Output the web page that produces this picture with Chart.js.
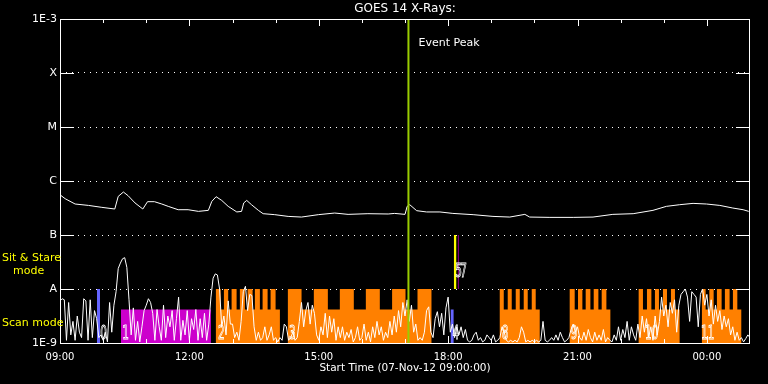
<!DOCTYPE html>
<html lang="en">
<head>
  <meta charset="UTF-8" />
  <title>GOES 14 X-Rays</title>
  <script src="https://cdn.jsdelivr.net/npm/chart.js"></script>
  <style>
    body { margin: 0; background: #000; }
    canvas { display: block; }
  </style>
</head>
<body>
  <canvas id="goesChart" width="768" height="384"></canvas>
  <script>
    // x values are hours after 07-Nov-12 09:00
    const xTickHours = [0, 3, 6, 9, 12, 15];
    const xTickLabels = ['09:00', '12:00', '15:00', '18:00', '21:00', '00:00'];
    const yTickValues = [1e-9, 1e-8, 1e-7, 1e-6, 1e-5, 1e-4, 1e-3];
    const yTickLabels = ['1E-9', 'A', 'B', 'C', 'M', 'X', '1E-3'];

    // GOES long channel flux (W/m^2)
    const fluxHours = [0.02, 0.12, 0.35, 0.66, 0.97, 1.27, 1.35, 1.47, 1.58, 1.74, 1.92, 2.03, 2.19, 2.36, 2.51,
      2.74, 2.97, 3.21, 3.44, 3.52, 3.62, 3.75, 3.90, 4.10, 4.21, 4.26, 4.33, 4.44, 4.60, 4.71, 4.98, 5.29, 5.60,
      5.99, 6.37, 6.68, 7.14, 7.61, 7.76, 8.00, 8.05, 8.11, 8.27, 8.50, 8.81, 9.11, 9.58, 10.04, 10.43, 10.78,
      10.89, 11.36, 11.90, 12.36, 12.82, 13.29, 13.75, 14.06, 14.37, 14.68, 14.99, 15.30, 15.60, 15.84, 15.97];
    const fluxValues = [5.4e-7, 4.7e-7, 3.75e-7, 3.53e-7, 3.25e-7, 3.03e-7, 5.19e-7, 6.25e-7, 5.34e-7, 3.92e-7,
      3.03e-7, 4.14e-7, 4.14e-7, 3.75e-7, 3.39e-7, 2.94e-7, 2.94e-7, 2.74e-7, 2.86e-7, 4.19e-7, 5.12e-7, 4.37e-7,
      3.39e-7, 2.67e-7, 2.74e-7, 3.92e-7, 4.37e-7, 3.64e-7, 2.86e-7, 2.48e-7, 2.38e-7, 2.21e-7, 2.15e-7, 2.38e-7,
      2.55e-7, 2.41e-7, 2.48e-7, 2.45e-7, 2.51e-7, 2.41e-7, 3.39e-7, 3.64e-7, 2.82e-7, 2.67e-7, 2.67e-7, 2.51e-7,
      2.38e-7, 2.21e-7, 2.15e-7, 2.41e-7, 2.15e-7, 2.12e-7, 2.12e-7, 2.15e-7, 2.41e-7, 2.48e-7, 2.86e-7, 3.39e-7,
      3.64e-7, 3.85e-7, 3.75e-7, 3.53e-7, 3.16e-7, 2.94e-7, 2.74e-7];

    const eventPeakHour = 8.08;

    // detector counts in the mode band, 3 min cadence (band units, 1 = top of scan band)
    const countStep = 0.05;
    const countValues = [
      0.78, 0.82, 0.8, 0.05, 0.75, 0.15, 0.4, 0.05, 0.5, 0.2,
      0.1, 0.82, 0.78, 0.05, 0.8, 0.1, 0.6, 0.45, 0.1, 0.15,
      0.05, 0.2, 0.02, 0.75, 0.2, 0.7, 0.95, 1.38, 1.48, 1.56,
      1.58, 1.4, 0.8, 0.15, 0.65, 0.05, 0.4, 0.02, 0.3, 0.6,
      0.7, 0.82, 0.75, 0.55, 0.05, 0.62, 0.3, 0.05, 0.7, 0.1,
      0.5, 0.3, 0.6, 0.05, 0.45, 0.85, 0.05, 0.42, 0.15, 0.6,
      0.05, 0.45, 0.25, 0.62, 0.05, 0.45, 0.1, 0.55, 0.05, 0.35,
      0.85, 1.2, 1.28, 1.26, 1.0, 0.3, 0.5, 0.15, 0.78, 0.35,
      0.35, 0.1, 0.2, 0.05, 0.4, 0.95, 1.05, 0.6, 0.9, 0.88,
      0.3, 0.05, 0.2, 0.05, 0.1, 0.3, 0.05, 0.15, 0.3, 0.05,
      0.1, 0.02, 0.1, 0.05, 0.35, 0.3, 0.05, 0.1, 0.2, 0.05,
      0.1, 0.4, 0.75, 0.3, 0.6, 0.75, 0.35, 0.7, 0.55, 0.15,
      0.05, 0.3, 0.15, 0.55, 0.1, 0.5, 0.2, 0.45, 0.05, 0.3,
      0.1, 0.3, 0.05, 0.2, 0.1, 0.25, 0.02, 0.1, 0.3, 0.05,
      0.1, 0.35, 0.05, 0.2, 0.02, 0.3, 0.1, 0.4, 0.15, 0.3,
      0.05, 0.2, 0.1, 0.4, 0.15, 0.5, 0.2, 0.6, 0.3, 0.75,
      0.5, 0.8, 0.4, 0.7, 0.2, 0.35, 0.05, 0.1, 0.05, 0.2,
      0.6, 0.67, 0.2, 0.1, 0.45, 0.58, 0.3, 0.55, 0.15, 0.65,
      0.85, 0.2, 0.35, 0.1, 0.3, 0.15, 0.3, 0.1, 0.25, 0.05,
      0.02, 0.05, 0.15, 0.2, 0.05, 0.1, 0.02, 0.05, 0.15, 0.1,
      0.05, 0.15, 0.02, 0.05, 0.1, 0.3, 0.2, 0.05, 0.02, 0.05,
      0.02, 0.05, 0.02, 0.1, 0.3, 0.2, 0.02, 0.05, 0.02, 0.05,
      0.02, 0.05, 0.02, 0.05, 0.4, 0.05, 0.02, 0.05, 0.1, 0.05,
      0.15, 0.05, 0.2, 0.1, 0.02, 0.05, 0.1, 0.25, 0.35, 0.2,
      0.3, 0.1, 0.05, 0.2, 0.05, 0.25, 0.1, 0.02, 0.2, 0.05,
      0.15, 0.05, 0.25, 0.02, 0.1, 0.05, 0.02, 0.15, 0.05, 0.3,
      0.05, 0.25, 0.1, 0.4, 0.05, 0.3, 0.15, 0.05, 0.35, 0.1,
      0.5, 0.2, 0.45, 0.1, 0.3, 0.05, 0.5, 0.15, 0.4, 0.85,
      0.5, 0.7, 0.3, 0.75, 0.55, 0.8, 0.2, 0.7, 0.9, 0.95,
      1.0, 0.85, 0.4, 0.95, 0.9, 0.85, 0.3, 0.9, 1.0, 0.7,
      0.9, 0.5, 0.8, 0.35, 0.7, 0.4, 0.6, 0.25, 0.5, 0.3,
      0.45, 0.15, 0.3, 0.05, 0.2, 0.05, 0.1, 0.02, 0.08, 0.15,
      0.1];

    // observing modes: level 1 = full scan, 0.62 = partial, 0 = none
    const scanTimes = [0, 3.615, 3.724, 3.801, 3.900, 3.979, 4.095, 4.171, 4.287, 4.350, 4.466, 4.519, 4.635,
      4.698, 4.814, 4.883, 4.999, 5.099,
      5.284, 5.601, 5.886, 6.211, 6.489, 6.813, 7.092, 7.416, 7.701, 8.012, 8.290, 8.614,
      10.197, 10.290, 10.382, 10.475, 10.568, 10.661, 10.753, 10.846, 10.939, 11.031, 11.124,
      11.819, 11.935, 12.012, 12.113, 12.190, 12.299, 12.376, 12.484, 12.561, 12.670, 12.762,
      13.418, 13.518, 13.611, 13.713, 13.796, 13.889, 13.982, 14.075, 14.167, 14.260, 14.368,
      14.885, 14.971, 15.057, 15.157, 15.233, 15.342, 15.418, 15.527, 15.604, 15.706, 15.798, 16];
    const scanLevels = [0, 1, 0.62, 1, 0.62, 1, 0.62, 1, 0.62, 1, 0.62, 1, 0.62, 1, 0.62, 1, 0.62, 0,
      1, 0.62, 1, 0.62, 1, 0.62, 1, 0.62, 1, 0.62, 1, 0,
      1, 0.62, 1, 0.62, 1, 0.62, 1, 0.62, 1, 0.62, 0,
      1, 0.62, 1, 0.62, 1, 0.62, 1, 0.62, 1, 0.62, 0,
      1, 0.62, 1, 0.62, 1, 0.62, 1, 0.62, 1, 0.62, 0,
      1, 0.62, 1, 0.62, 1, 0.62, 1, 0.62, 1, 0.62, 0, 0];
    const rasterTimes = [1.414, 3.499];
    const rasterLevels = [0.62, 0];
    const blueTimes = [0.857, 0.927, 9.061, 9.131];
    const blueLevels = [1, 0, 0.62, 0];
    const stareTimes = [9.131, 9.194];
    const stareLevels = [2, 1];
    const stare7Times = [9.222, 9.247];
    const stare7Levels = [2, 1];

    const modeNumbers = ['0', '1', '2', '3', '4', '5', '7', '8', '9', '10', '11'];
    const modeNumberHours = [1.01, 1.52, 3.74, 5.39, 9.18, 9.24, 9.36, 10.32, 11.92, 13.72, 15.02];
    const modeNumberLevels = [0.16, 0.16, 0.16, 0.16, 0.16, 1.32, 1.32, 0.16, 0.16, 0.16, 0.16];

    const FONT = '"DejaVu Sans", sans-serif';

    function steps(times, levels) {
      return times.map((t, i) => ({ x: t, y: levels[i] }));
    }

    const decor = {
      id: 'decor',
      afterDraw(chart) {
        const { ctx, chartArea: a, scales } = chart;
        const x = scales.x, y = scales.y, y2 = scales.y2;
        ctx.save();
        ctx.strokeStyle = '#fff';
        ctx.lineWidth = 1;
        ctx.strokeRect(a.left + 0.5, a.top + 0.5, a.right - a.left - 1, a.bottom - a.top);

        ctx.beginPath();
        yTickValues.slice(1, -1).forEach(v => {
          const py = Math.round(y.getPixelForValue(v)) + 0.5;
          ctx.moveTo(a.left, py); ctx.lineTo(a.left + 14, py);
          ctx.moveTo(a.right - 14, py); ctx.lineTo(a.right, py);
        });
        for (let h = 1; h < 16; h++) {
          const px = Math.round(x.getPixelForValue(h)) + 0.5;
          const len = h % 3 === 0 ? 7 : 4;
          ctx.moveTo(px, a.top); ctx.lineTo(px, a.top + len);
          ctx.moveTo(px, a.bottom); ctx.lineTo(px, a.bottom - len);
        }
        ctx.stroke();

        ctx.fillStyle = '#fff';
        ctx.textBaseline = 'middle';
        ctx.textAlign = 'center';
        ctx.font = '12px ' + FONT;
        ctx.fillText('GOES 14 X-Rays:', (a.left + a.right) / 2, 9);
        ctx.font = '10.5px ' + FONT;
        ctx.fillText('Start Time (07-Nov-12 09:00:00)', (a.left + a.right) / 2, 368);

        ctx.textAlign = 'left';
        ctx.font = '11px ' + FONT;
        ctx.fillText('Event Peak', x.getPixelForValue(eventPeakHour) + 10, 43);

        ctx.fillStyle = '#ffff00';
        ctx.fillText('Sit & Stare', 2, 258);
        ctx.fillText('mode', 13, 271);
        ctx.fillText('Scan mode', 2, 323);

        ctx.strokeStyle = '#fff';
        ctx.font = '19px ' + FONT;
        modeNumbers.forEach((t, i) => {
          ctx.save();
          ctx.translate(x.getPixelForValue(modeNumberHours[i]), y2.getPixelForValue(modeNumberLevels[i]));
          ctx.scale(0.55, 1);
          ctx.textAlign = 'center';
          ctx.strokeText(t, 0, 0);
          ctx.restore();
        });
        ctx.restore();
      }
    };

    new Chart(document.getElementById('goesChart'), {
      type: 'line',
      data: {
        datasets: [
          {
            data: [{ x: eventPeakHour, y: 1e-9 }, { x: eventPeakHour, y: 1e-3 }],
            borderColor: '#99cc00', borderWidth: 2, yAxisID: 'y', order: 0
          },
          {
            data: fluxHours.map((h, i) => ({ x: h, y: fluxValues[i] })),
            borderColor: '#ffffff', borderWidth: 1, yAxisID: 'y', order: 1
          },
          {
            data: countValues.map((v, i) => ({ x: i * countStep, y: v })),
            borderColor: '#ffffff', borderWidth: 1, yAxisID: 'y2', order: 2
          },
          {
            data: steps(stareTimes, stareLevels), stepped: true, fill: { value: 1 },
            backgroundColor: '#ffff00', borderWidth: 0, yAxisID: 'y2', order: 3
          },
          {
            data: steps(stare7Times, stare7Levels), stepped: true, fill: { value: 1 },
            backgroundColor: '#cc00cc', borderWidth: 0, yAxisID: 'y2', order: 3
          },
          {
            data: steps(blueTimes, blueLevels), stepped: true, fill: 'origin',
            backgroundColor: '#6464ff', borderWidth: 0, yAxisID: 'y2', order: 4
          },
          {
            data: steps(rasterTimes, rasterLevels), stepped: true, fill: 'origin',
            backgroundColor: '#cc00cc', borderWidth: 0, yAxisID: 'y2', order: 5
          },
          {
            data: steps(scanTimes, scanLevels), stepped: true, fill: 'origin',
            backgroundColor: '#ff8000', borderWidth: 0, yAxisID: 'y2', order: 5
          }
        ]
      },
      options: {
        responsive: false,
        animation: false,
        devicePixelRatio: 1,
        layout: { padding: { top: 19, right: 18, left: 0, bottom: 0 } },
        plugins: { legend: { display: false }, tooltip: { enabled: false } },
        elements: { point: { radius: 0 }, line: { tension: 0 } },
        scales: {
          x: {
            type: 'linear', min: 0, max: 16,
            afterBuildTicks: s => { s.ticks = xTickHours.map(v => ({ value: v })); },
            afterFit: s => { s.height = 41; },
            grid: { display: false },
            border: { display: false },
            ticks: {
              color: '#fff', font: { family: FONT, size: 10 }, padding: 0,
              maxRotation: 0, autoSkip: false,
              callback: (v, i) => xTickLabels[i]
            }
          },
          y: {
            type: 'logarithmic', min: 1e-9, max: 1e-3,
            afterBuildTicks: s => { s.ticks = yTickValues.map(v => ({ value: v })); },
            afterFit: s => { s.width = 60; },
            grid: {
              drawTicks: false,
              color: c => (c.index === 0 || c.index === yTickValues.length - 1) ? 'rgba(0,0,0,0)' : '#ffffff'
            },
            border: { display: false, dash: [1, 5] },
            ticks: {
              color: '#fff', font: { family: FONT, size: 11 }, padding: 3, autoSkip: false,
              callback: (v, i) => yTickLabels[i]
            }
          },
          y2: { type: 'linear', min: 0, max: 6, display: false }
        }
      },
      plugins: [decor]
    });
  </script>
</body>
</html>
